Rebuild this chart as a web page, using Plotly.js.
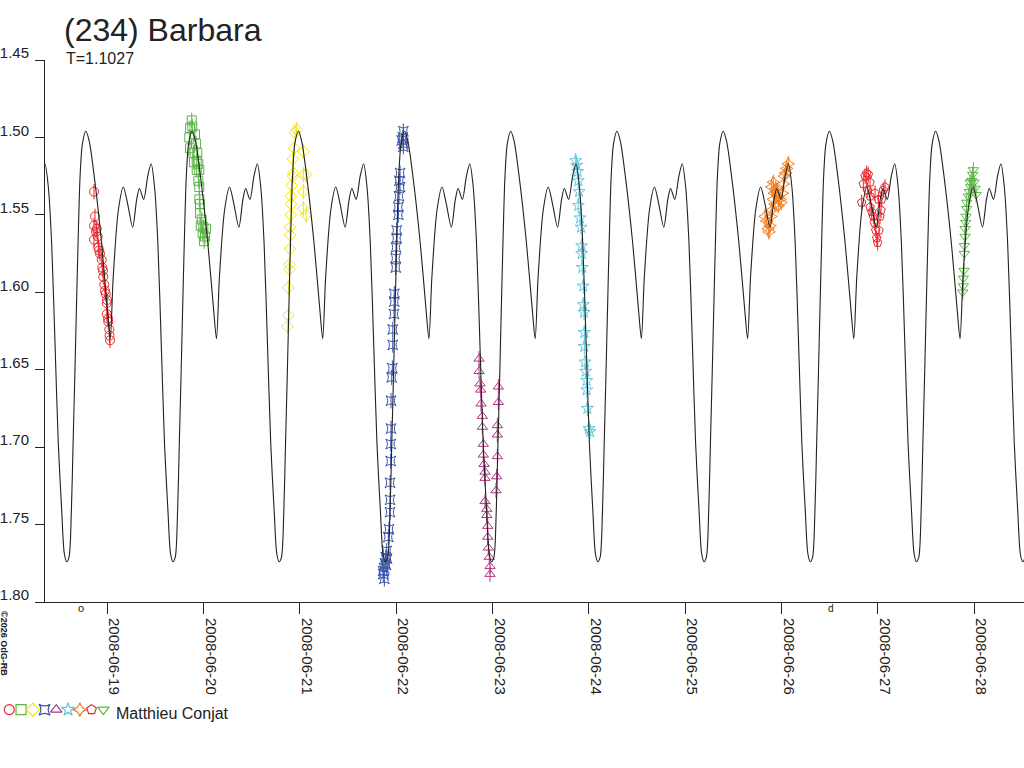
<!DOCTYPE html>
<html>
<head>
<meta charset="utf-8">
<script src="https://cdn.plot.ly/plotly-3.0.1.min.js"></script>
<style>
  html, body { margin: 0; padding: 0; background: #fff; }
  #chart { width: 1024px; height: 768px; }
</style>
</head>
<body>
<div id="chart"></div>
<script>
// times are days of June 2008 (UT), values are magnitudes
const T = 1.1027;
const epochMin = 19.681; // one of the deep minima of the model

// one period of the model lightcurve
const modelPhase = [0, 0.022, 0.044, 0.060, 0.076, 0.091, 0.107, 0.126, 0.148, 0.180,
  0.211, 0.259, 0.328, 0.384, 0.410, 0.438, 0.486, 0.533, 0.574, 0.621,
  0.659, 0.685, 0.725, 0.763, 0.795, 0.827, 0.858, 0.890, 0.921, 0.953, 0.978];
const modelMag = [1.774, 1.771, 1.741, 1.698, 1.655, 1.612, 1.568, 1.525, 1.504, 1.496,
  1.502, 1.525, 1.568, 1.612, 1.630, 1.590, 1.547, 1.532, 1.543, 1.558,
  1.540, 1.533, 1.540, 1.525, 1.517, 1.532, 1.568, 1.633, 1.698, 1.741, 1.769];

const circT = [18.862, 18.872, 18.862, 18.890, 18.862, 18.900, 18.907, 18.924, 18.942, 18.948,
  18.958, 18.969, 18.983, 18.994, 18.994, 19.010, 19.021, 19.028, 18.883, 18.914,
  18.955, 18.976, 18.997, 19.007, 19.023];
const circMag = [1.535, 1.551, 1.557, 1.559, 1.566, 1.564, 1.571, 1.575, 1.579, 1.584,
  1.590, 1.595, 1.601, 1.607, 1.614, 1.619, 1.624, 1.631, 1.561, 1.573,
  1.586, 1.599, 1.605, 1.617, 1.628];

const sqT = [19.876, 19.859, 19.882, 19.851, 19.910, 19.859, 19.921, 19.893, 19.934, 19.928,
  19.900, 19.945, 19.928, 19.955, 19.945, 19.955, 19.955, 19.962, 19.962, 19.980,
  19.970, 19.997, 20.025, 19.990, 20.014, 20.004];
const sqMag = [1.489, 1.494, 1.493, 1.500, 1.498, 1.507, 1.504, 1.510, 1.510, 1.515,
  1.516, 1.517, 1.521, 1.521, 1.528, 1.532, 1.540, 1.543, 1.549, 1.553,
  1.557, 1.558, 1.559, 1.562, 1.564, 1.567];

const diaT = [20.966, 20.949, 20.938, 21.035, 20.925, 20.931, 20.925, 21.035, 21.063, 20.914,
  21.035, 20.904, 20.907, 21.035, 20.904, 21.063, 20.897, 20.897, 20.897, 20.889,
  20.889, 20.879, 20.879, 20.869];
const diaMag = [1.495, 1.497, 1.507, 1.509, 1.514, 1.523, 1.525, 1.524, 1.524, 1.531,
  1.535, 1.538, 1.543, 1.546, 1.550, 1.550, 1.558, 1.563, 1.572, 1.582,
  1.585, 1.597, 1.615, 1.622];

const bowT = [22.073, 22.067, 22.056, 22.073, 22.073, 22.039, 22.031, 22.039, 22.028, 22.021,
  22.021, 22.004, 22.004, 21.997, 21.994, 21.994, 21.979, 21.979, 21.976, 21.963,
  21.963, 21.959, 21.952, 21.945, 21.945, 21.942, 21.942, 21.935, 21.935, 21.935,
  21.924, 21.917, 21.900, 21.890, 21.883, 21.872, 21.865, 21.876, 21.893, 21.904, 21.862];
const bowMag = [1.496, 1.500, 1.502, 1.504, 1.506, 1.523, 1.528, 1.532, 1.538, 1.545,
  1.550, 1.560, 1.565, 1.571, 1.578, 1.584, 1.601, 1.606, 1.614, 1.624,
  1.634, 1.649, 1.655, 1.670, 1.688, 1.698, 1.709, 1.723, 1.734, 1.742,
  1.753, 1.758, 1.767, 1.771, 1.775, 1.778, 1.782, 1.785, 1.776, 1.772, 1.780];

const triT = [22.859, 22.859, 22.869, 22.876, 22.879, 22.893, 22.893, 22.903, 22.903, 22.911,
  22.921, 22.921, 22.921, 22.939, 22.939, 22.949, 22.949, 22.955, 22.965, 22.973,
  22.973, 23.059, 23.059, 23.049, 23.049, 23.049, 23.042, 23.035];
const triMag = [1.643, 1.651, 1.659, 1.663, 1.672, 1.680, 1.687, 1.698, 1.705, 1.711,
  1.716, 1.720, 1.735, 1.740, 1.744, 1.751, 1.758, 1.765, 1.771, 1.777,
  1.782, 1.661, 1.671, 1.686, 1.692, 1.706, 1.719, 1.728];

const starT = [23.862, 23.873, 23.883, 23.889, 23.897, 23.889, 23.907, 23.918, 23.925, 23.925,
  23.931, 23.941, 23.941, 23.949, 23.952, 23.952, 23.959, 23.966, 23.977, 23.977,
  23.983, 24.000, 24.011];
const starMag = [1.515, 1.518, 1.522, 1.528, 1.535, 1.544, 1.552, 1.558, 1.570, 1.575,
  1.584, 1.596, 1.608, 1.613, 1.626, 1.635, 1.645, 1.651, 1.657, 1.663,
  1.675, 1.688, 1.690];

const sdT = [25.828, 25.845, 25.862, 25.869, 25.880, 25.890, 25.897, 25.914, 25.924, 25.939,
  25.949, 25.966, 25.983, 25.994, 26.007, 26.018, 26.028, 26.042, 26.053, 26.069,
  25.897, 25.914, 25.931, 25.966];
const sdMag = [1.551, 1.554, 1.559, 1.561, 1.557, 1.551, 1.547, 1.540, 1.536, 1.533,
  1.535, 1.538, 1.540, 1.542, 1.536, 1.530, 1.525, 1.523, 1.520, 1.517,
  1.532, 1.529, 1.543, 1.544];

const penT = [26.831, 26.848, 26.866, 26.883, 26.900, 26.894, 26.918, 26.918, 26.935, 26.952,
  26.962, 26.977, 26.987, 26.997, 27.011, 27.021, 27.032, 27.039, 27.056, 27.004,
  26.970, 26.918, 27.073];
const penMag = [1.542, 1.530, 1.525, 1.523, 1.524, 1.534, 1.538, 1.545, 1.548, 1.551,
  1.555, 1.560, 1.565, 1.568, 1.560, 1.551, 1.547, 1.540, 1.534, 1.540,
  1.536, 1.529, 1.532];

const tdT = [27.880, 27.886, 27.886, 27.893, 27.897, 27.897, 27.904, 27.904, 27.911, 27.914,
  27.921, 27.921, 27.938, 27.948, 27.963, 27.973, 27.983, 27.997, 28.007, 27.990,
  27.956, 28.018];
const tdMag = [1.600, 1.596, 1.591, 1.586, 1.575, 1.570, 1.564, 1.559, 1.555, 1.551,
  1.546, 1.542, 1.538, 1.535, 1.532, 1.528, 1.524, 1.529, 1.533, 1.521,
  1.529, 1.537];

const tickDays = [19, 20, 21, 22, 23, 24, 25, 26, 27, 28];
const tickDates = ["2008-06-19", "2008-06-20", "2008-06-21", "2008-06-22", "2008-06-23",
  "2008-06-24", "2008-06-25", "2008-06-26", "2008-06-27", "2008-06-28"];
const magTicks = [1.45, 1.50, 1.55, 1.60, 1.65, 1.70, 1.75, 1.80];
const magLabels = ["1.45", "1.50", "1.55", "1.60", "1.65", "1.70", "1.75", "1.80"];

const observer = "Matthieu Conjat";
const symbols = ["circle-open", "square-open", "diamond-open", "star-square-open", "triangle-up-open",
  "star-open", "star-diamond-open", "pentagon-open", "triangle-down-open"];
const colors = ["#e8262b", "#5cb547", "#f2e600", "#3a55a8", "#b1357f",
  "#5fc8dc", "#f07e22", "#e8262b", "#5cb547"];

const xRange = [18.353, 28.516];

// model curve: the read period repeated with T
var curveX = [];
var curveY = [];
for (var k = -2; k <= 10; k++) {
  for (var i = 0; i < modelPhase.length; i++) {
    var t = epochMin + (k + modelPhase[i]) * T;
    if (t >= xRange[0] - 0.2 && t <= xRange[1] + 0.2) {
      curveX.push(t);
      curveY.push(modelMag[i]);
    }
  }
}

const sets = [
  [circT, circMag], [sqT, sqMag], [diaT, diaMag], [bowT, bowMag], [triT, triMag],
  [starT, starMag], [sdT, sdMag], [penT, penMag], [tdT, tdMag],
];

var data = sets.map(function (s, i) {
  return {
    x: s[0],
    y: s[1],
    type: "scatter",
    mode: "markers",
    marker: { symbol: symbols[i], size: 9, color: colors[i], line: { width: 1, color: colors[i] } },
    error_y: { type: "constant", value: 0.005, width: 0, thickness: 1, color: colors[i] },
    hoverinfo: "skip",
  };
});

data.push({
  x: curveX,
  y: curveY,
  type: "scatter",
  mode: "lines",
  line: { color: "#222", width: 1.1, shape: "spline", smoothing: 0.8 },
  hoverinfo: "skip",
});

// symbol strip next to the observer name
data.push({
  x: symbols.map(function (s, i) { return i; }),
  y: symbols.map(function () { return 0; }),
  xaxis: "x2",
  yaxis: "y2",
  type: "scatter",
  mode: "markers",
  marker: { symbol: symbols, size: 10, color: colors, line: { width: 1.2, color: colors } },
  hoverinfo: "skip",
});

var font = "Liberation Sans, Arial, sans-serif";

var layout = {
  width: 1024,
  height: 768,
  margin: { l: 0, r: 0, t: 0, b: 0 },
  paper_bgcolor: "#fff",
  plot_bgcolor: "#fff",
  showlegend: false,
  font: { family: font, color: "#222" },
  title: {
    text: "(234) Barbara",
    x: 64 / 1024,
    xanchor: "left",
    xref: "paper",
    y: 1 - 30 / 768,
    yanchor: "middle",
    font: { size: 32, color: "#222", family: font },
  },
  xaxis: {
    domain: [45 / 1024, 1],
    range: xRange,
    tickvals: tickDays,
    ticktext: tickDates,
    tickangle: 90,
    ticks: "outside",
    ticklen: 11,
    tickcolor: "#222",
    tickfont: { size: 15, color: "#222" },
    ticklabelshift: 7,
    ticklabelstandoff: 1,
    showline: true,
    linecolor: "#222",
    linewidth: 1,
    showgrid: false,
    zeroline: false,
    automargin: false,
  },
  yaxis: {
    domain: [166 / 768, 708 / 768],
    range: [1.80, 1.45],
    tickvals: magTicks,
    ticktext: magLabels,
    ticks: "outside",
    ticklen: 9,
    tickcolor: "#222",
    tickfont: { size: 15, color: "#222" },
    ticklabelshift: 7,
    ticklabelstandoff: 3,
    showline: true,
    linecolor: "#222",
    linewidth: 1,
    showgrid: false,
    zeroline: false,
    automargin: false,
  },
  xaxis2: {
    domain: [0, 0.125],
    range: [-0.79, 10.1],
    anchor: "y2",
    visible: false,
  },
  yaxis2: {
    domain: [0.05, 0.09],
    range: [-1.3, 0.7],
    anchor: "x2",
    visible: false,
  },
  annotations: [
    {
      text: "T=1.1027", xref: "paper", yref: "paper",
      x: 64 / 1024, y: 1 - 58 / 768, xanchor: "left", yanchor: "middle",
      showarrow: false, font: { size: 16, color: "#222" },
    },
    {
      text: observer, xref: "paper", yref: "paper",
      x: 114 / 1024, y: 1 - 713 / 768, xanchor: "left", yanchor: "middle",
      showarrow: false, font: { size: 16, color: "#222" },
    },
    {
      text: "<b>©2026 OdG-RB</b>", xref: "paper", yref: "paper",
      x: 4 / 1024, y: 1 - 643 / 768, xanchor: "center", yanchor: "middle",
      textangle: 90, showarrow: false, font: { size: 9, color: "#222" },
    },
    {
      text: "o", xref: "x", yref: "paper",
      x: 18.73, y: 1 - 608 / 768, xanchor: "center", yanchor: "middle",
      showarrow: false, font: { size: 11, color: "#222" },
    },
    {
      text: "d", xref: "x", yref: "paper",
      x: 26.51, y: 1 - 608 / 768, xanchor: "center", yanchor: "middle",
      showarrow: false, font: { size: 10, color: "#222" },
    },
  ],
};

Plotly.newPlot("chart", data, layout, { staticPlot: true, displayModeBar: false });
</script>
</body>
</html>
